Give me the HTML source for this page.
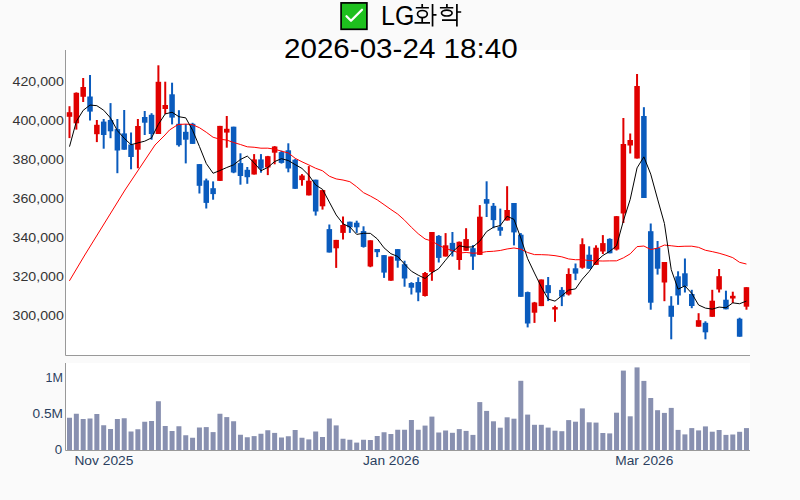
<!DOCTYPE html>
<html><head><meta charset="utf-8"><style>
html,body{margin:0;padding:0;background:#fafafa;}
body{width:800px;height:500px;overflow:hidden;}
svg{display:block;font-family:"Liberation Sans",sans-serif;}
</style></head><body>
<svg width="800" height="500" viewBox="0 0 800 500">
<rect x="0" y="0" width="800" height="500" fill="#fafafa"/>
<rect x="65" y="50" width="685" height="305.5" fill="#fff"/>
<rect x="65" y="363" width="685" height="87.5" fill="#fff"/>
<g>
<rect x="68.5" y="106.2" width="2" height="31.9" fill="#e00000"/>
<rect x="66.75" y="112.2" width="5.5" height="4.6" fill="#e00000"/>
<rect x="75.34" y="92.4" width="2" height="37.2" fill="#e00000"/>
<rect x="73.59" y="92.8" width="5.5" height="30.5" fill="#e00000"/>
<rect x="82.18" y="78" width="2" height="24" fill="#e00000"/>
<rect x="80.43" y="87" width="5.5" height="9.8" fill="#e00000"/>
<rect x="89.01" y="75" width="2" height="45.5" fill="#0a5bbd"/>
<rect x="87.26" y="96.5" width="5.5" height="15.1" fill="#0a5bbd"/>
<rect x="95.85" y="120" width="2" height="22.1" fill="#e00000"/>
<rect x="94.1" y="124.8" width="5.5" height="9.4" fill="#e00000"/>
<rect x="102.69" y="119" width="2" height="29.7" fill="#0a5bbd"/>
<rect x="100.94" y="121.6" width="5.5" height="13.4" fill="#0a5bbd"/>
<rect x="109.53" y="103.1" width="2" height="35.1" fill="#0a5bbd"/>
<rect x="107.78" y="120" width="5.5" height="11.3" fill="#0a5bbd"/>
<rect x="116.37" y="119" width="2" height="54.2" fill="#0a5bbd"/>
<rect x="114.62" y="129.1" width="5.5" height="21.4" fill="#0a5bbd"/>
<rect x="123.2" y="110" width="2" height="39.7" fill="#0a5bbd"/>
<rect x="121.45" y="133.4" width="5.5" height="16.3" fill="#0a5bbd"/>
<rect x="130.04" y="132.5" width="2" height="36.8" fill="#0a5bbd"/>
<rect x="128.29" y="144.5" width="5.5" height="12.5" fill="#0a5bbd"/>
<rect x="136.88" y="119" width="2" height="49.3" fill="#e00000"/>
<rect x="135.13" y="126" width="5.5" height="23.7" fill="#e00000"/>
<rect x="143.72" y="111" width="2" height="24" fill="#0a5bbd"/>
<rect x="141.97" y="117" width="5.5" height="5.7" fill="#0a5bbd"/>
<rect x="150.56" y="113.2" width="2" height="26.5" fill="#0a5bbd"/>
<rect x="148.81" y="114.8" width="5.5" height="19.2" fill="#0a5bbd"/>
<rect x="157.39" y="65.3" width="2" height="68.7" fill="#e00000"/>
<rect x="155.64" y="81.8" width="5.5" height="52.2" fill="#e00000"/>
<rect x="164.23" y="81.7" width="2" height="32.3" fill="#e00000"/>
<rect x="162.48" y="105" width="5.5" height="4" fill="#e00000"/>
<rect x="171.07" y="82.7" width="2" height="41.7" fill="#0a5bbd"/>
<rect x="169.32" y="94.3" width="5.5" height="23.3" fill="#0a5bbd"/>
<rect x="177.91" y="110.2" width="2" height="36.4" fill="#0a5bbd"/>
<rect x="176.16" y="123.8" width="5.5" height="21.4" fill="#0a5bbd"/>
<rect x="184.75" y="124" width="2" height="39.4" fill="#0a5bbd"/>
<rect x="183" y="131.8" width="5.5" height="7.9" fill="#0a5bbd"/>
<rect x="191.58" y="122.8" width="2" height="21.1" fill="#0a5bbd"/>
<rect x="189.83" y="123.8" width="5.5" height="20.1" fill="#0a5bbd"/>
<rect x="198.42" y="164.1" width="2" height="29.4" fill="#0a5bbd"/>
<rect x="196.67" y="164.1" width="5.5" height="21.7" fill="#0a5bbd"/>
<rect x="205.26" y="178.6" width="2" height="29.9" fill="#0a5bbd"/>
<rect x="203.51" y="180.4" width="5.5" height="22.5" fill="#0a5bbd"/>
<rect x="212.1" y="181.4" width="2" height="18.3" fill="#0a5bbd"/>
<rect x="210.35" y="188.2" width="5.5" height="5.9" fill="#0a5bbd"/>
<rect x="218.94" y="125.9" width="2" height="55" fill="#e00000"/>
<rect x="217.19" y="125.9" width="5.5" height="55" fill="#e00000"/>
<rect x="225.77" y="116" width="2" height="31.7" fill="#e00000"/>
<rect x="224.02" y="128.8" width="5.5" height="3.8" fill="#e00000"/>
<rect x="232.61" y="126.7" width="2" height="46.5" fill="#0a5bbd"/>
<rect x="230.86" y="126.7" width="5.5" height="45.8" fill="#0a5bbd"/>
<rect x="239.45" y="153.3" width="2" height="31.4" fill="#0a5bbd"/>
<rect x="237.7" y="163.1" width="5.5" height="12.9" fill="#0a5bbd"/>
<rect x="246.29" y="167" width="2" height="16.8" fill="#0a5bbd"/>
<rect x="244.54" y="169.8" width="5.5" height="7.4" fill="#0a5bbd"/>
<rect x="253.13" y="154.1" width="2" height="20.4" fill="#e00000"/>
<rect x="251.38" y="159.4" width="5.5" height="15.1" fill="#e00000"/>
<rect x="259.96" y="154.1" width="2" height="18.6" fill="#0a5bbd"/>
<rect x="258.21" y="159.4" width="5.5" height="9.1" fill="#0a5bbd"/>
<rect x="266.8" y="155.9" width="2" height="19.2" fill="#e00000"/>
<rect x="265.05" y="156.2" width="5.5" height="11.3" fill="#e00000"/>
<rect x="273.64" y="146.1" width="2" height="18.2" fill="#e00000"/>
<rect x="271.89" y="146.5" width="5.5" height="6.2" fill="#e00000"/>
<rect x="280.48" y="150.7" width="2" height="12.9" fill="#0a5bbd"/>
<rect x="278.73" y="152.1" width="5.5" height="10.8" fill="#0a5bbd"/>
<rect x="287.32" y="143.3" width="2" height="29" fill="#0a5bbd"/>
<rect x="285.57" y="150.3" width="5.5" height="18.2" fill="#0a5bbd"/>
<rect x="294.15" y="159.1" width="2" height="29.7" fill="#0a5bbd"/>
<rect x="292.4" y="159.7" width="5.5" height="29.1" fill="#0a5bbd"/>
<rect x="300.99" y="174.1" width="2" height="11.6" fill="#e00000"/>
<rect x="299.24" y="175.5" width="5.5" height="4.6" fill="#e00000"/>
<rect x="307.83" y="166.1" width="2" height="29.3" fill="#e00000"/>
<rect x="306.08" y="180.7" width="5.5" height="14.7" fill="#e00000"/>
<rect x="314.67" y="179.7" width="2" height="35.9" fill="#0a5bbd"/>
<rect x="312.92" y="179.7" width="5.5" height="31.8" fill="#0a5bbd"/>
<rect x="321.51" y="189.9" width="2" height="19.7" fill="#e00000"/>
<rect x="319.76" y="190.1" width="5.5" height="16.2" fill="#e00000"/>
<rect x="328.34" y="224.5" width="2" height="28" fill="#0a5bbd"/>
<rect x="326.59" y="229.1" width="5.5" height="23.4" fill="#0a5bbd"/>
<rect x="335.18" y="239.9" width="2" height="28" fill="#e00000"/>
<rect x="333.43" y="239.9" width="5.5" height="8.4" fill="#e00000"/>
<rect x="342.02" y="216.5" width="2" height="23" fill="#e00000"/>
<rect x="340.27" y="225" width="5.5" height="7.9" fill="#e00000"/>
<rect x="348.86" y="221.7" width="2" height="11.2" fill="#0a5bbd"/>
<rect x="347.11" y="221.7" width="5.5" height="5.6" fill="#0a5bbd"/>
<rect x="355.7" y="220.7" width="2" height="12.2" fill="#0a5bbd"/>
<rect x="353.95" y="222.7" width="5.5" height="4.6" fill="#0a5bbd"/>
<rect x="362.53" y="226.3" width="2" height="21.3" fill="#0a5bbd"/>
<rect x="360.78" y="231.1" width="5.5" height="15.8" fill="#0a5bbd"/>
<rect x="369.37" y="240.3" width="2" height="26.9" fill="#e00000"/>
<rect x="367.62" y="240.3" width="5.5" height="26.2" fill="#e00000"/>
<rect x="376.21" y="249" width="2" height="8.1" fill="#0a5bbd"/>
<rect x="374.46" y="249" width="5.5" height="3.2" fill="#0a5bbd"/>
<rect x="383.05" y="255.1" width="2" height="22.8" fill="#0a5bbd"/>
<rect x="381.3" y="255.1" width="5.5" height="17.5" fill="#0a5bbd"/>
<rect x="389.89" y="256.5" width="2" height="24.2" fill="#e00000"/>
<rect x="388.14" y="256.5" width="5.5" height="24.2" fill="#e00000"/>
<rect x="396.72" y="249.1" width="2" height="18.6" fill="#0a5bbd"/>
<rect x="394.97" y="249.1" width="5.5" height="11.6" fill="#0a5bbd"/>
<rect x="403.56" y="260.7" width="2" height="26" fill="#0a5bbd"/>
<rect x="401.81" y="264.2" width="5.5" height="14.3" fill="#0a5bbd"/>
<rect x="410.4" y="282.2" width="2" height="12.3" fill="#0a5bbd"/>
<rect x="408.65" y="283" width="5.5" height="4.7" fill="#0a5bbd"/>
<rect x="417.24" y="277.3" width="2" height="23.9" fill="#0a5bbd"/>
<rect x="415.49" y="282" width="5.5" height="10.5" fill="#0a5bbd"/>
<rect x="424.08" y="272" width="2" height="24.5" fill="#e00000"/>
<rect x="422.33" y="273" width="5.5" height="23" fill="#e00000"/>
<rect x="430.91" y="232" width="2" height="48.8" fill="#e00000"/>
<rect x="429.16" y="232" width="5.5" height="39.9" fill="#e00000"/>
<rect x="437.75" y="235.1" width="2" height="27.4" fill="#0a5bbd"/>
<rect x="436" y="235.9" width="5.5" height="22" fill="#0a5bbd"/>
<rect x="444.59" y="233.1" width="2" height="23.4" fill="#e00000"/>
<rect x="442.84" y="245.3" width="5.5" height="11.2" fill="#e00000"/>
<rect x="451.43" y="232" width="2" height="24.5" fill="#0a5bbd"/>
<rect x="449.68" y="242.9" width="5.5" height="8.7" fill="#0a5bbd"/>
<rect x="458.27" y="241.5" width="2" height="28.3" fill="#e00000"/>
<rect x="456.52" y="241.8" width="5.5" height="18.2" fill="#e00000"/>
<rect x="465.1" y="228.2" width="2" height="22.6" fill="#e00000"/>
<rect x="463.35" y="239.1" width="5.5" height="11.7" fill="#e00000"/>
<rect x="471.94" y="245.1" width="2" height="24.8" fill="#0a5bbd"/>
<rect x="470.19" y="248.2" width="5.5" height="8.4" fill="#0a5bbd"/>
<rect x="478.78" y="205.1" width="2" height="49.8" fill="#e00000"/>
<rect x="477.03" y="216.7" width="5.5" height="38.2" fill="#e00000"/>
<rect x="485.62" y="181.3" width="2" height="35.7" fill="#0a5bbd"/>
<rect x="483.87" y="199.1" width="5.5" height="4.6" fill="#0a5bbd"/>
<rect x="492.46" y="203" width="2" height="25.2" fill="#0a5bbd"/>
<rect x="490.71" y="205.8" width="5.5" height="14.3" fill="#0a5bbd"/>
<rect x="499.29" y="208.6" width="2" height="27.2" fill="#0a5bbd"/>
<rect x="497.54" y="227.1" width="5.5" height="3.6" fill="#0a5bbd"/>
<rect x="506.13" y="186.2" width="2" height="34.3" fill="#e00000"/>
<rect x="504.38" y="210" width="5.5" height="10.5" fill="#e00000"/>
<rect x="512.97" y="203" width="2" height="42.4" fill="#0a5bbd"/>
<rect x="511.22" y="203" width="5.5" height="29.4" fill="#0a5bbd"/>
<rect x="519.81" y="233.1" width="2" height="63.7" fill="#0a5bbd"/>
<rect x="518.06" y="234.7" width="5.5" height="62.1" fill="#0a5bbd"/>
<rect x="526.65" y="291.6" width="2" height="35.8" fill="#0a5bbd"/>
<rect x="524.9" y="292.1" width="5.5" height="31.4" fill="#0a5bbd"/>
<rect x="533.48" y="301.9" width="2" height="21" fill="#e00000"/>
<rect x="531.73" y="302.5" width="5.5" height="10.2" fill="#e00000"/>
<rect x="540.32" y="279.5" width="2" height="26.6" fill="#e00000"/>
<rect x="538.57" y="279.5" width="5.5" height="26.6" fill="#e00000"/>
<rect x="547.16" y="277" width="2" height="24.1" fill="#0a5bbd"/>
<rect x="545.41" y="285.1" width="5.5" height="8" fill="#0a5bbd"/>
<rect x="554" y="305.7" width="2" height="16.1" fill="#e00000"/>
<rect x="552.25" y="307.1" width="5.5" height="2.4" fill="#e00000"/>
<rect x="560.84" y="287.1" width="2" height="19" fill="#0a5bbd"/>
<rect x="559.09" y="289.9" width="5.5" height="6.7" fill="#0a5bbd"/>
<rect x="567.67" y="268.3" width="2" height="27.2" fill="#e00000"/>
<rect x="565.92" y="274" width="5.5" height="20.5" fill="#e00000"/>
<rect x="574.51" y="263.5" width="2" height="16.6" fill="#0a5bbd"/>
<rect x="572.76" y="268.3" width="5.5" height="5.3" fill="#0a5bbd"/>
<rect x="581.35" y="238.3" width="2" height="30.4" fill="#e00000"/>
<rect x="579.6" y="244.2" width="5.5" height="23.5" fill="#e00000"/>
<rect x="588.19" y="246.3" width="2" height="22.4" fill="#0a5bbd"/>
<rect x="586.44" y="254.7" width="5.5" height="14" fill="#0a5bbd"/>
<rect x="595.03" y="245.3" width="2" height="19.6" fill="#e00000"/>
<rect x="593.28" y="247.7" width="5.5" height="17.2" fill="#e00000"/>
<rect x="601.86" y="235.1" width="2" height="18.9" fill="#e00000"/>
<rect x="600.11" y="243.1" width="5.5" height="8.4" fill="#e00000"/>
<rect x="608.7" y="238.3" width="2" height="15" fill="#0a5bbd"/>
<rect x="606.95" y="238.9" width="5.5" height="14.4" fill="#0a5bbd"/>
<rect x="615.54" y="216" width="2" height="34.5" fill="#e00000"/>
<rect x="613.79" y="216.2" width="5.5" height="33.3" fill="#e00000"/>
<rect x="622.38" y="118" width="2" height="105" fill="#e00000"/>
<rect x="620.63" y="144" width="5.5" height="69.5" fill="#e00000"/>
<rect x="629.22" y="133.5" width="2" height="20" fill="#e00000"/>
<rect x="627.47" y="140" width="5.5" height="5.5" fill="#e00000"/>
<rect x="636.05" y="74" width="2" height="84.5" fill="#e00000"/>
<rect x="634.3" y="86" width="5.5" height="72.5" fill="#e00000"/>
<rect x="642.89" y="107.2" width="2" height="90.8" fill="#0a5bbd"/>
<rect x="641.14" y="116" width="5.5" height="82" fill="#0a5bbd"/>
<rect x="649.73" y="223.5" width="2" height="86.2" fill="#0a5bbd"/>
<rect x="647.98" y="231.2" width="5.5" height="71.5" fill="#0a5bbd"/>
<rect x="656.57" y="241" width="2" height="33.6" fill="#0a5bbd"/>
<rect x="654.82" y="248" width="5.5" height="20.7" fill="#0a5bbd"/>
<rect x="663.41" y="262" width="2" height="39.2" fill="#e00000"/>
<rect x="661.66" y="262" width="5.5" height="20.5" fill="#e00000"/>
<rect x="670.24" y="296.2" width="2" height="43.1" fill="#0a5bbd"/>
<rect x="668.49" y="305.7" width="5.5" height="11.1" fill="#0a5bbd"/>
<rect x="677.08" y="271.3" width="2" height="33.5" fill="#0a5bbd"/>
<rect x="675.33" y="276.3" width="5.5" height="19.2" fill="#0a5bbd"/>
<rect x="683.92" y="258.5" width="2" height="34" fill="#0a5bbd"/>
<rect x="682.17" y="273.3" width="5.5" height="13.2" fill="#0a5bbd"/>
<rect x="690.76" y="289.8" width="2" height="18.4" fill="#0a5bbd"/>
<rect x="689.01" y="294" width="5.5" height="12" fill="#0a5bbd"/>
<rect x="697.6" y="313.2" width="2" height="13.5" fill="#e00000"/>
<rect x="695.85" y="320.2" width="5.5" height="6.5" fill="#e00000"/>
<rect x="704.43" y="321.3" width="2" height="18" fill="#0a5bbd"/>
<rect x="702.68" y="322.8" width="5.5" height="9.5" fill="#0a5bbd"/>
<rect x="711.27" y="289.8" width="2" height="27" fill="#e00000"/>
<rect x="709.52" y="300.7" width="5.5" height="16.1" fill="#e00000"/>
<rect x="718.11" y="269" width="2" height="23.5" fill="#e00000"/>
<rect x="716.36" y="276.2" width="5.5" height="13.3" fill="#e00000"/>
<rect x="724.95" y="290.7" width="2" height="18.6" fill="#0a5bbd"/>
<rect x="723.2" y="299.7" width="5.5" height="9.6" fill="#0a5bbd"/>
<rect x="731.79" y="291.7" width="2" height="11.3" fill="#e00000"/>
<rect x="730.04" y="295.8" width="5.5" height="2.7" fill="#e00000"/>
<rect x="738.62" y="317.7" width="2" height="19" fill="#0a5bbd"/>
<rect x="736.87" y="318.7" width="5.5" height="18" fill="#0a5bbd"/>
<rect x="745.46" y="287.2" width="2" height="22.5" fill="#e00000"/>
<rect x="743.71" y="287.2" width="5.5" height="19.5" fill="#e00000"/>
</g>
<polyline points="69.4,280.9 84.8,255 125,190 155,145 165,135 169.5,130 178,124.5 185.6,124.1 192,124.5 199.42,127.68 206.26,132.22 213.1,137.28 219.94,139.23 226.77,140.09 233.61,142.47 240.45,144.52 247.29,146.81 254.13,147.26 260.96,148.2 267.8,148.16 274.64,149.19 281.48,151.19 288.32,152.92 295.15,158.27 301.99,161.8 308.83,164.95 315.67,168.27 322.51,170.78 329.34,176.21 336.18,178.92 343.02,180.03 349.86,181.69 356.7,186.76 363.53,192.66 370.37,196.05 377.21,199.86 384.05,204.63 390.89,209.48 397.72,214.09 404.56,220.21 411.4,227.27 418.24,233.75 425.08,238.97 431.91,241.13 438.75,245.25 445.59,248.48 452.43,250.49 459.27,253.08 466.1,252.41 472.94,253.24 479.78,252.83 486.62,251.64 493.46,251.28 500.29,250.47 507.13,248.96 513.97,247.97 520.81,249.18 527.65,252.53 534.48,254.62 541.32,254.67 548.16,254.94 555,255.67 561.84,256.85 568.67,258.95 575.51,259.74 582.35,259.68 589.19,260.54 596.03,260.83 602.86,261.03 609.7,260.87 616.54,260.84 623.38,257.86 630.22,253.85 637.05,246.62 643.89,246.02 650.73,249.53 657.57,248.12 664.41,245.05 671.24,245.77 678.08,246.56 684.92,246.23 691.76,246.18 698.6,247.36 705.43,250.28 712.27,251.63 719.11,253.23 725.95,255.26 732.79,257.67 739.62,262.35 746.46,264.04" fill="none" stroke="#ff0000" stroke-width="1" stroke-linejoin="round"/>
<polyline points="69.5,146.63 76.34,121.47 83.18,110.35 90.01,105.06 96.85,105.68 103.69,110.24 110.53,117.94 117.37,130.64 124.2,138.26 131.04,144.7 137.88,142.9 144.72,141.18 151.56,137.88 158.39,124.3 165.23,113.9 172.07,112.22 178.91,116.72 185.75,117.86 192.58,130.28 199.42,146.44 206.26,163.5 213.1,173.28 219.94,170.52 226.77,167.5 233.61,164.84 240.45,159.46 247.29,156.08 254.13,162.78 260.96,170.72 267.8,167.46 274.64,161.56 281.48,158.7 288.32,160.52 295.15,164.58 301.99,168.44 308.83,175.28 315.67,185 322.51,189.32 329.34,202.06 336.18,214.94 343.02,223.8 349.86,226.96 356.7,234.4 363.53,233.28 370.37,233.36 377.21,238.8 384.05,247.86 390.89,253.7 397.72,256.46 404.56,264.1 411.4,271.2 418.24,275.18 425.08,278.48 431.91,272.74 438.75,268.62 445.59,260.14 452.43,251.96 459.27,245.72 466.1,247.14 472.94,246.88 479.78,241.16 486.62,231.58 493.46,227.24 500.29,225.56 507.13,216.24 513.97,219.38 520.81,238 527.65,258.68 534.48,273.04 541.32,286.94 548.16,299.08 555,301.14 561.84,295.76 568.67,290.06 575.51,288.88 582.35,279.1 589.19,271.42 596.03,261.64 602.86,255.46 609.7,251.4 616.54,245.8 623.38,220.86 630.22,199.32 637.05,167.9 643.89,156.84 650.73,174.14 657.57,199.08 664.41,223.48 671.24,269.64 678.08,289.14 684.92,285.9 691.76,293.36 698.6,305 705.43,308.1 712.27,309.14 719.11,307.08 725.95,307.74 732.79,302.86 739.62,303.74 746.46,301.04" fill="none" stroke="#000" stroke-width="1" stroke-linejoin="round"/>
<g fill="#8890b0">
<rect x="67" y="417.75" width="5" height="32.25"/>
<rect x="73.84" y="413.75" width="5" height="36.25"/>
<rect x="80.68" y="419" width="5" height="31"/>
<rect x="87.51" y="418.5" width="5" height="31.5"/>
<rect x="94.35" y="414" width="5" height="36"/>
<rect x="101.19" y="425.25" width="5" height="24.75"/>
<rect x="108.03" y="429" width="5" height="21"/>
<rect x="114.87" y="419" width="5" height="31"/>
<rect x="121.7" y="418.25" width="5" height="31.75"/>
<rect x="128.54" y="431.5" width="5" height="18.5"/>
<rect x="135.38" y="429.25" width="5" height="20.75"/>
<rect x="142.22" y="421.75" width="5" height="28.25"/>
<rect x="149.06" y="421" width="5" height="29"/>
<rect x="155.89" y="401.25" width="5" height="48.75"/>
<rect x="162.73" y="426" width="5" height="24"/>
<rect x="169.57" y="431" width="5" height="19"/>
<rect x="176.41" y="426.25" width="5" height="23.75"/>
<rect x="183.25" y="435.25" width="5" height="14.75"/>
<rect x="190.08" y="437.75" width="5" height="12.25"/>
<rect x="196.92" y="427.5" width="5" height="22.5"/>
<rect x="203.76" y="427.1" width="5" height="22.9"/>
<rect x="210.6" y="432.1" width="5" height="17.9"/>
<rect x="217.44" y="413.75" width="5" height="36.25"/>
<rect x="224.27" y="417.1" width="5" height="32.9"/>
<rect x="231.11" y="421.25" width="5" height="28.75"/>
<rect x="237.95" y="434.75" width="5" height="15.25"/>
<rect x="244.79" y="437.25" width="5" height="12.75"/>
<rect x="251.63" y="436.1" width="5" height="13.9"/>
<rect x="258.46" y="433.75" width="5" height="16.25"/>
<rect x="265.3" y="430.25" width="5" height="19.75"/>
<rect x="272.14" y="432.9" width="5" height="17.1"/>
<rect x="278.98" y="437.5" width="5" height="12.5"/>
<rect x="285.82" y="436.25" width="5" height="13.75"/>
<rect x="292.65" y="430" width="5" height="20"/>
<rect x="299.49" y="437.75" width="5" height="12.25"/>
<rect x="306.33" y="439.4" width="5" height="10.6"/>
<rect x="313.17" y="431.5" width="5" height="18.5"/>
<rect x="320.01" y="437" width="5" height="13"/>
<rect x="326.84" y="418.5" width="5" height="31.5"/>
<rect x="333.68" y="425.4" width="5" height="24.6"/>
<rect x="340.52" y="438.75" width="5" height="11.25"/>
<rect x="347.36" y="439.75" width="5" height="10.25"/>
<rect x="354.2" y="442.6" width="5" height="7.4"/>
<rect x="361.03" y="439.75" width="5" height="10.25"/>
<rect x="367.87" y="440" width="5" height="10"/>
<rect x="374.71" y="436" width="5" height="14"/>
<rect x="381.55" y="432.25" width="5" height="17.75"/>
<rect x="388.39" y="434" width="5" height="16"/>
<rect x="395.22" y="429.75" width="5" height="20.25"/>
<rect x="402.06" y="429.75" width="5" height="20.25"/>
<rect x="408.9" y="420" width="5" height="30"/>
<rect x="415.74" y="429.75" width="5" height="20.25"/>
<rect x="422.58" y="425.6" width="5" height="24.4"/>
<rect x="429.41" y="416.6" width="5" height="33.4"/>
<rect x="436.25" y="432.5" width="5" height="17.5"/>
<rect x="443.09" y="430.5" width="5" height="19.5"/>
<rect x="449.93" y="432.8" width="5" height="17.2"/>
<rect x="456.77" y="429.1" width="5" height="20.9"/>
<rect x="463.6" y="430.9" width="5" height="19.1"/>
<rect x="470.44" y="434.9" width="5" height="15.1"/>
<rect x="477.28" y="402.1" width="5" height="47.9"/>
<rect x="484.12" y="410.9" width="5" height="39.1"/>
<rect x="490.96" y="421.3" width="5" height="28.7"/>
<rect x="497.79" y="427.7" width="5" height="22.3"/>
<rect x="504.63" y="417.3" width="5" height="32.7"/>
<rect x="511.47" y="418.7" width="5" height="31.3"/>
<rect x="518.31" y="380.8" width="5" height="69.2"/>
<rect x="525.15" y="414.6" width="5" height="35.4"/>
<rect x="531.98" y="424.8" width="5" height="25.2"/>
<rect x="538.82" y="424.8" width="5" height="25.2"/>
<rect x="545.66" y="427.6" width="5" height="22.4"/>
<rect x="552.5" y="430.7" width="5" height="19.3"/>
<rect x="559.34" y="431.2" width="5" height="18.8"/>
<rect x="566.17" y="420.1" width="5" height="29.9"/>
<rect x="573.01" y="421.7" width="5" height="28.3"/>
<rect x="579.85" y="408.4" width="5" height="41.6"/>
<rect x="586.69" y="422.3" width="5" height="27.7"/>
<rect x="593.53" y="422.6" width="5" height="27.4"/>
<rect x="600.36" y="433" width="5" height="17"/>
<rect x="607.2" y="433.4" width="5" height="16.6"/>
<rect x="614.04" y="412.7" width="5" height="37.3"/>
<rect x="620.88" y="370.6" width="5" height="79.4"/>
<rect x="627.72" y="416.3" width="5" height="33.7"/>
<rect x="634.55" y="367.4" width="5" height="82.6"/>
<rect x="641.39" y="380.9" width="5" height="69.1"/>
<rect x="648.23" y="398" width="5" height="52"/>
<rect x="655.07" y="410.2" width="5" height="39.8"/>
<rect x="661.91" y="412.9" width="5" height="37.1"/>
<rect x="668.74" y="407.9" width="5" height="42.1"/>
<rect x="675.58" y="429.9" width="5" height="20.1"/>
<rect x="682.42" y="434.4" width="5" height="15.6"/>
<rect x="689.26" y="428.1" width="5" height="21.9"/>
<rect x="696.1" y="430.4" width="5" height="19.6"/>
<rect x="702.93" y="426.4" width="5" height="23.6"/>
<rect x="709.77" y="431.7" width="5" height="18.3"/>
<rect x="716.61" y="430" width="5" height="20"/>
<rect x="723.45" y="434.9" width="5" height="15.1"/>
<rect x="730.29" y="434.5" width="5" height="15.5"/>
<rect x="737.12" y="431.8" width="5" height="18.2"/>
<rect x="743.96" y="428.1" width="5" height="21.9"/>
</g>
<g stroke="#999999" stroke-width="1" fill="none">
<path d="M65.5,50V355.5H750"/>
<path d="M65.5,363V450.5H750"/>
</g>
<g font-size="12" fill="#333">
<text x="12.6" y="320.1" textLength="51.2" lengthAdjust="spacingAndGlyphs">300,000</text>
<text x="12.6" y="281.07" textLength="51.2" lengthAdjust="spacingAndGlyphs">320,000</text>
<text x="12.6" y="242.03" textLength="51.2" lengthAdjust="spacingAndGlyphs">340,000</text>
<text x="12.6" y="203" textLength="51.2" lengthAdjust="spacingAndGlyphs">360,000</text>
<text x="12.6" y="163.96" textLength="51.2" lengthAdjust="spacingAndGlyphs">380,000</text>
<text x="12.6" y="124.93" textLength="51.2" lengthAdjust="spacingAndGlyphs">400,000</text>
<text x="12.6" y="85.9" textLength="51.2" lengthAdjust="spacingAndGlyphs">420,000</text>
</g>
<g font-size="12" fill="#2a3f5f">
<text x="45.6" y="382.3" textLength="17.4" lengthAdjust="spacingAndGlyphs">1M</text>
<text x="32.6" y="418.3" textLength="30.4" lengthAdjust="spacingAndGlyphs">0.5M</text>
<text x="54.8" y="454" textLength="7.4" lengthAdjust="spacingAndGlyphs">0</text>
<text x="74.4" y="464.8" textLength="59" lengthAdjust="spacingAndGlyphs">Nov 2025</text>
<text x="362.9" y="464.8" textLength="56.5" lengthAdjust="spacingAndGlyphs">Jan 2026</text>
<text x="615.3" y="464.8" textLength="58" lengthAdjust="spacingAndGlyphs">Mar 2026</text>
</g>
<!-- title -->
<g>
<rect x="341.1" y="2.9" width="25.8" height="26.4" fill="#1ec01e" stroke="#000" stroke-width="1.7"/>
<path d="M346.5,16.3 L351,20.8 L362,9.8" fill="none" stroke="#fff" stroke-width="2.3" stroke-linecap="round" stroke-linejoin="round"/>
<text x="381" y="24.9" font-size="27" fill="#000" textLength="33.3" lengthAdjust="spacingAndGlyphs">LG</text>
<g stroke="#000" stroke-width="1.7" fill="none">
<path d="M422.2,4.1V7.3 M415.8,7.75H428.9 M422.2,18V22.3 M414.5,22.85H430 M432.55,4.1V26.5 M433,14.8H436.5"/>
<ellipse cx="422.4" cy="14.1" rx="4.9" ry="3.6"/>
<path d="M446.9,4.1V7.3 M439.9,7.75H453.3 M442,20.15H457 M456.9,4.1V26.5 M457.3,12H461.2"/>
<ellipse cx="446.8" cy="13.1" rx="5.3" ry="2.9"/>
</g>
<text x="284" y="57.8" font-size="27" fill="#000" textLength="233.6" lengthAdjust="spacingAndGlyphs">2026-03-24 18:40</text>
</g>
</svg>
</body></html>
